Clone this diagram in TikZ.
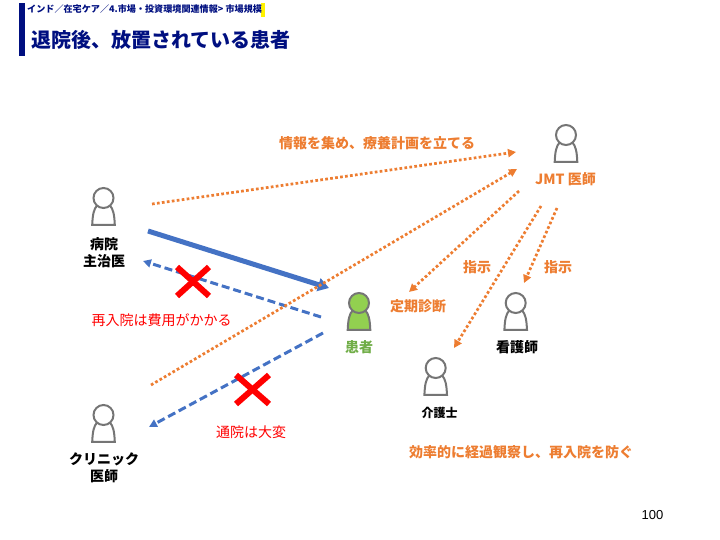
\documentclass[tikz,border=0pt]{standalone}
\usepackage{fontspec}
\setmainfont{Noto Sans CJK JP}
\newfontfamily\latinfont{Liberation Sans}
\usetikzlibrary{arrows.meta}
\definecolor{navybar}{HTML}{000F80}
\definecolor{planorange}{HTML}{ED7D31}
\definecolor{routeblue}{HTML}{4472C4}
\definecolor{patientgreen}{HTML}{92D050}
\definecolor{patienttext}{HTML}{70AD47}
\definecolor{icongray}{HTML}{757575}
\tikzset{
  person/.pic={
    \draw[icongray,line width=2pt,fill=#1] (-11.3,26.8) .. controls (-10.8,17) and (-10,11) .. (-6,7)
      -- (6,7) .. controls (10,11) and (10.8,17) .. (11.3,26.8) -- cycle;
    \draw[icongray,line width=2pt,fill=#1] (0,0) circle (10);
  },
  planline/.style={planorange,line width=2.7pt,dash pattern=on 2.7pt off 2.3pt,-{Triangle[length=8pt,width=8pt]}},
  routeline/.style={routeblue,line width=3pt,dash pattern=on 8pt off 4pt,-{Triangle[length=8pt,width=8pt]}},
  crossline/.style={red,line width=6pt},
  role/.style={font=\bfseries\fontsize{14}{17}\selectfont,align=center},
  plantext/.style={font=\bfseries\fontsize{14}{17}\selectfont,text=planorange},
  redtext/.style={font=\fontsize{14}{17}\selectfont,text=red},
}
\begin{document}
\begin{tikzpicture}[x=1pt,y=-1pt]
\useasboundingbox (0,0) rectangle (720,540);

% Page heading.
\fill[navybar] (19,3) rectangle (25,56);
\fill[yellow] (261,3) rectangle (265,17);
\node[anchor=west,inner sep=0pt,text=navybar,font=\bfseries\fontsize{9.1}{11}\selectfont] (crumb) at (27,9.5) {インド／在宅ケア／4.市場・投資環境関連情報> 市場規模};
\node[anchor=west,inner sep=0pt,text=navybar,font=\bfseries\fontsize{20}{24}\selectfont] (title) at (31,39.5) {退院後、放置されている患者};

% People.
\pic at (103.5,198) {person=white};
\pic at (103.5,415) {person=white};
\pic at (359,303) {person=patientgreen};
\pic at (566,135) {person=white};
\pic at (515.7,303) {person=white};
\pic at (435.7,368) {person=white};

\node[role] (hospital) at (104,252.5) {病院\\主治医};
\node[role] (clinic) at (104,467.5) {クリニック\\医師};
\node[role,text=patienttext] (patient) at (359,347.5) {患者};
\node[role,text=planorange] (jmt) at (565.5,179) {JMT 医師};
\node[role] (nurse) at (517,347.5) {看護師};
\node[font=\bfseries\fontsize{12}{14}\selectfont] (carer) at (439.5,412.5) {介護士};

% Connector ends.
\coordinate (hospitalout) at (148,231);
\coordinate (patientin) at (329,288);
\coordinate (patientback) at (321,317);
\coordinate (hospitalin) at (143,261);
\coordinate (patientgo) at (323,333);
\coordinate (clinicin) at (149,427);
\coordinate (hospitalplan) at (152,204);
\coordinate (jmtplan) at (516,152);
\coordinate (clinicplan) at (151,385);
\coordinate (jmtclinic) at (517,169);
\coordinate (jmtvisit) at (519,191);
\coordinate (patientvisit) at (409,292);
\coordinate (jmtcarer) at (541,206);
\coordinate (carerin) at (454,348);
\coordinate (jmtnurse) at (557,208);
\coordinate (nursein) at (524,283);

% Blue routes.
\draw[routeblue,line width=5pt,-{Triangle[length=11pt,width=13pt]}] (hospitalout) -- (patientin);
\draw[routeline] (patientback) -- (hospitalin);
\draw[routeline] (patientgo) -- (clinicin);

% Orange dotted links.
\draw[planline] (hospitalplan) -- (jmtplan);
\draw[planline] (clinicplan) -- (jmtclinic);
\draw[planline] (jmtvisit) -- (patientvisit);
\draw[planline] (jmtcarer) -- (carerin);
\draw[planline] (jmtnurse) -- (nursein);

% Crosses.
\draw[crossline] (177,267) -- (209,296);
\draw[crossline] (209,267) -- (177,296);
\draw[crossline] (236,375) -- (269,404);
\draw[crossline] (269,375) -- (236,404);

% Labels.
\node[plantext] (plan) at (377,143) {情報を集め、療養計画を立てる};
\node[plantext] (orderleft) at (477,267) {指示};
\node[plantext] (orderright) at (558,267) {指示};
\node[plantext] (visit) at (418,306) {定期診断};
\node[plantext] (goal) at (521,452) {効率的に経過観察し、再入院を防ぐ};
\node[redtext] (readmit) at (161.5,320) {再入院は費用がかかる};
\node[redtext] (commute) at (251,432) {通院は大変};
\node[font=\latinfont\fontsize{13}{15}\selectfont] (pageno) at (652.5,515.5) {100};
\end{tikzpicture}
\end{document}
